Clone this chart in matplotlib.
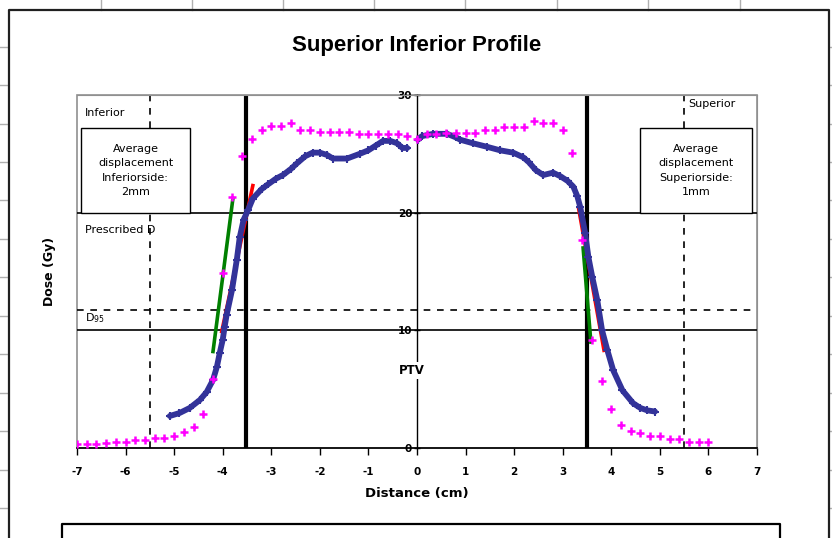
import numpy as np
import matplotlib
matplotlib.use('Agg')
import matplotlib.pyplot as plt
from matplotlib.lines import Line2D
from matplotlib.patches import Rectangle

plt.rcParams['font.family'] = ['DejaVu Sans']
plt.rcParams['axes.unicode_minus'] = False

# calculated profile (magenta crosses)
calc_x = [-7.0, -6.8, -6.6, -6.4, -6.2, -6.0, -5.8, -5.6, -5.4, -5.2,
          -5.0, -4.8, -4.6, -4.4, -4.2, -4.0, -3.8, -3.6, -3.4, -3.2,
          -3.0, -2.8, -2.6, -2.4, -2.2, -2.0, -1.8, -1.6, -1.4, -1.2,
          -1.0, -0.8, -0.6, -0.4, -0.2, 0.0, 0.2, 0.4, 0.6, 0.8,
          1.0, 1.2, 1.4, 1.6, 1.8, 2.0, 2.2, 2.4, 2.6, 2.8,
          3.0, 3.2, 3.4, 3.6, 3.8, 4.0, 4.2, 4.4, 4.6, 4.8,
          5.0, 5.2, 5.4, 5.6, 5.8, 6.0]
calc_dose = [0.34, 0.34, 0.34, 0.42, 0.51, 0.51, 0.68, 0.68, 0.85, 0.85,
             1.02, 1.36, 1.78, 2.89, 5.86, 14.87, 21.3, 24.8, 26.25, 27.0,
             27.4, 27.4, 27.6, 27.0, 27.0, 26.85, 26.85, 26.85, 26.85, 26.7,
             26.7, 26.7, 26.7, 26.7, 26.5, 26.3, 26.7, 26.7, 26.8, 26.8,
             26.8, 26.8, 27.0, 27.0, 27.3, 27.3, 27.3, 27.8, 27.6, 27.6,
             27.0, 25.1, 17.7, 9.2, 5.7, 3.3, 1.95, 1.44, 1.27, 1.02,
             1.02, 0.76, 0.76, 0.51, 0.51, 0.51]

# film profile (blue), inferior half
film_inf_x = [-5.09, -4.89, -4.68, -4.47, -4.33, -4.2, -4.12, -4.06, -4.0, -3.96,
              -3.92, -3.81, -3.71, -3.65, -3.57, -3.48, -3.38, -3.2, -3.07, -2.9,
              -2.76, -2.6, -2.47, -2.3, -2.15, -2.0, -1.85, -1.73, -1.44, -1.18,
              -1.0, -0.85, -0.7, -0.55, -0.41, -0.3, -0.2]
film_inf_dose = [2.72, 2.97, 3.4, 4.08, 4.76, 5.78, 6.9, 8.1, 9.2, 10.3,
                 11.3, 13.4, 16.0, 17.9, 19.4, 20.2, 21.2, 22.0, 22.4, 22.9,
                 23.2, 23.7, 24.2, 24.8, 25.1, 25.1, 24.9, 24.6, 24.6, 25.0,
                 25.3, 25.7, 26.1, 26.1, 25.9, 25.5, 25.5]
# film profile (blue), superior half
film_sup_x = [0.02, 0.1, 0.33, 0.62, 0.8, 0.89, 1.15, 1.44, 1.71, 1.98,
              2.19, 2.3, 2.45, 2.6, 2.8, 2.95, 3.1, 3.22, 3.3, 3.36,
              3.46, 3.53, 3.61, 3.71, 3.81, 3.92, 4.04, 4.23, 4.45, 4.6,
              4.74, 4.9]
film_sup_dose = [26.2, 26.5, 26.7, 26.7, 26.4, 26.2, 25.9, 25.6, 25.3, 25.1,
                 24.7, 24.3, 23.6, 23.2, 23.4, 23.1, 22.7, 22.2, 21.4, 20.5,
                 18.3, 16.2, 14.5, 12.6, 10.0, 8.3, 6.6, 4.9, 3.8, 3.4,
                 3.2, 3.1]

# penumbra fits
film_fit_inf = ([-4.02, -3.38], [9.9, 22.3])
film_fit_sup = ([3.33, 3.85], [20.3, 8.3])
calc_fit_inf = ([-4.2, -3.79], [8.2, 21.2])
calc_fit_sup = ([3.42, 3.58], [17.0, 9.0])

ptv_edges = [-3.52, 3.5]
margin_edges = [-5.5, 5.5]
prescribed = 20
dose_10 = 10
d_level = 11.7

x_ticks = list(range(-7, 8))
y_ticks = [0, 10, 20, 30]

fig = plt.figure(figsize=(8.32, 5.38), dpi=100)
W, H = 832, 538

# spreadsheet behind the chart
for gx in [101, 192, 283, 374, 465, 557, 648, 740]:
    fig.add_artist(Line2D([gx / W, gx / W], [1, 1 - 10 / H], color='#b0b0b0', lw=1))
for gy in [47, 85, 124, 162, 200, 239, 277, 316, 354, 393, 431, 470, 508]:
    fig.add_artist(Line2D([0, 7 / W], [1 - gy / H, 1 - gy / H], color='#b0b0b0', lw=1))
    fig.add_artist(Line2D([830 / W, 1], [1 - gy / H, 1 - gy / H], color='#b0b0b0', lw=1))
# chart area border
fig.add_artist(Line2D([9 / W, 9 / W, 829 / W, 829 / W], [0, 1 - 10 / H, 1 - 10 / H, 0],
                      color='#202020', lw=1.6))
# legend box (cut off at bottom)
fig.add_artist(Line2D([62 / W, 62 / W, 780 / W, 780 / W], [0, 1 - 524 / H, 1 - 524 / H, 0],
                      color='black', lw=1.6))

ax = fig.add_axes([77 / W, 1 - 448 / H, 680 / W, 353 / H])
ax.set_xlim(-7, 7)
ax.set_ylim(0, 30)

# reference lines
ax.axhline(prescribed, color='black', lw=1.2, zorder=1)
ax.axhline(dose_10, color='black', lw=1.2, zorder=1)
ax.axhline(d_level, color='black', lw=1.2, ls=(0, (4, 4)), zorder=1)
for xe in margin_edges:
    ax.axvline(xe, color='black', lw=1.2, ls=(0, (4, 4)), zorder=1)
for xe in ptv_edges:
    ax.axvline(xe, color='black', lw=3, zorder=1)

# data
ax.plot(calc_x, calc_dose, ls='none', marker='+', ms=6, mew=1.8, color='#ff00ff', zorder=4)
for fx, fy in [(film_inf_x, film_inf_dose), (film_sup_x, film_sup_dose)]:
    ax.plot(fx, fy, color='#333399', lw=4.2, marker='+', ms=5.5, mew=1.5, zorder=3,
            solid_capstyle='round', solid_joinstyle='round')
for fx, fy in [film_fit_inf, film_fit_sup]:
    ax.plot(fx, fy, color='#ff0000', lw=2.6, zorder=2.5)
for fx, fy in [calc_fit_inf, calc_fit_sup]:
    ax.plot(fx, fy, color='#008000', lw=2.6, zorder=2.5)

# axes styling: y axis through x=0, gray plot frame
ax.spines['left'].set_position(('data', 0))
ax.spines['left'].set_linewidth(1)
ax.spines['bottom'].set_linewidth(1.2)
ax.spines['top'].set_color('#909090')
ax.spines['right'].set_color('#909090')
ax.add_patch(Rectangle((0, 0), 1, 1, transform=ax.transAxes, fill=False,
                       edgecolor='#909090', lw=1.2, zorder=0.5, clip_on=False))
ax.set_xticks(x_ticks)
ax.set_xticklabels([str(t) for t in x_ticks], fontsize=7.5, fontweight='bold')
ax.set_yticks(y_ticks)
ax.set_yticklabels([str(t) for t in y_ticks], fontsize=7.5, fontweight='bold')
ax.tick_params(axis='x', direction='out', length=5, width=1, pad=9)
ax.tick_params(axis='y', direction='inout', length=5, width=1, pad=1)

ax.set_xlabel('Distance (cm)', fontsize=9.5, fontweight='bold')
ax.xaxis.set_label_coords(0.5, -0.11)
ax.set_ylabel('Dose (Gy)', fontsize=9, fontweight='bold')
ax.yaxis.set_label_coords(-0.031, 0.5)

fig.text(417 / W, 1 - 45 / H, 'Superior Inferior Profile', ha='center', va='center',
         fontsize=16, fontweight='bold', family='Liberation Sans')

# annotations
ax.text(-6.84, 28.5, 'Inferior', fontsize=8, va='center', ha='left')
ax.text(5.58, 29.2, 'Superior', fontsize=8, va='center', ha='left')
ax.text(-6.84, 18.5, 'Prescribed D', fontsize=8, va='center', ha='left')
ax.text(-6.84, 11.0, 'D$_{95}$', fontsize=8, va='center', ha='left')
ax.text(-0.1, 6.6, 'PTV', fontsize=8.5, fontweight='bold', ha='center', va='center',
        bbox=dict(facecolor='white', edgecolor='none', pad=1.5), zorder=5)

box_style = dict(facecolor='white', edgecolor='black', lw=1)
ax.add_patch(Rectangle((-6.91, 20), 2.23, 7.2, zorder=2, **box_style))
ax.add_patch(Rectangle((4.6, 20), 2.3, 7.2, zorder=2, **box_style))
ax.text(-5.79, 23.6, 'Average\ndisplacement\nInferiorside:\n2mm', fontsize=8,
        ha='center', va='center', linespacing=1.55, zorder=3)
ax.text(5.75, 23.6, 'Average\ndisplacement\nSuperiorside:\n1mm', fontsize=8,
        ha='center', va='center', linespacing=1.55, zorder=3)

fig.savefig('out.png', dpi=100)
